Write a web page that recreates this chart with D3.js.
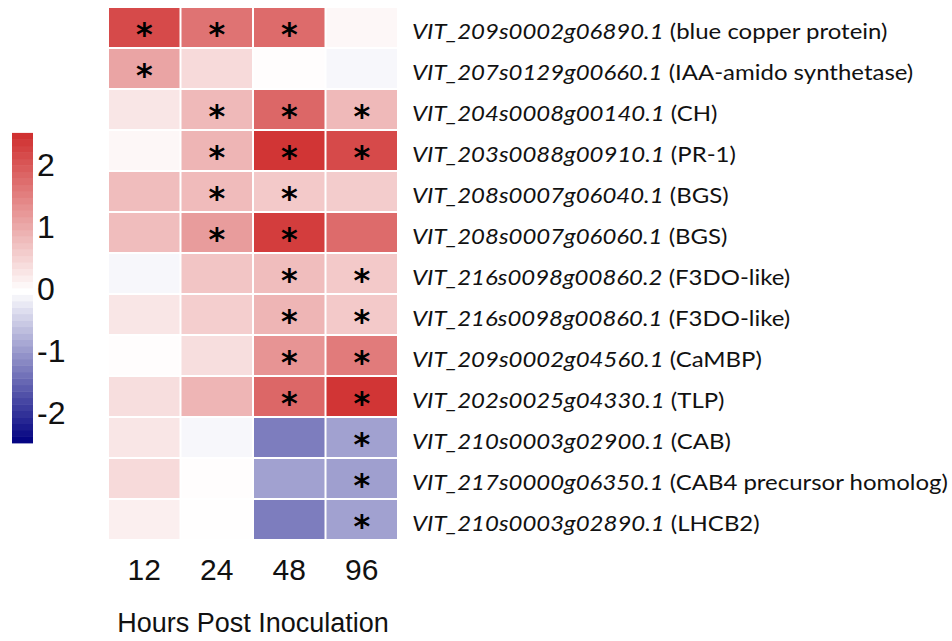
<!DOCTYPE html>
<html>
<head>
<meta charset="utf-8">
<script src="https://cdn.jsdelivr.net/npm/d3@7"></script>
<style>
  html, body { margin: 0; padding: 0; background: #fff; }
  svg { display: block; }
</style>
</head>
<body>
<svg id="chart" width="952" height="641"></svg>
<script>
// ---- data ----
const timepoints = ["12", "24", "48", "96"];
const geneIds = [
  "VIT_209s0002g06890.1", "VIT_207s0129g00660.1", "VIT_204s0008g00140.1",
  "VIT_203s0088g00910.1", "VIT_208s0007g06040.1", "VIT_208s0007g06060.1",
  "VIT_216s0098g00860.2", "VIT_216s0098g00860.1", "VIT_209s0002g04560.1",
  "VIT_202s0025g04330.1", "VIT_210s0003g02900.1", "VIT_217s0000g06350.1",
  "VIT_210s0003g02890.1"
];
const geneNames = [
  "(blue copper protein)", "(IAA-amido synthetase)", "(CH)", "(PR-1)", "(BGS)",
  "(BGS)", "(F3DO-like)", "(F3DO-like)", "(CaMBP)", "(TLP)", "(CAB)",
  "(CAB4 precursor homolog)", "(LHCB2)"
];
const values12 = [2.2, 1.1, 0.3, 0.1, 0.8, 0.8, -0.08, 0.3, 0.02, 0.4, 0.3, 0.45, 0.2];
const values24 = [1.7, 0.45, 0.85, 0.9, 0.82, 1.2, 0.7, 0.6, 0.4, 0.9, -0.08, 0.02, 0.01];
const values48 = [1.8, 0.02, 1.85, 2.45, 0.65, 2.35, 0.8, 0.9, 1.3, 1.85, -1.25, -0.9, -1.25];
const values96 = [0.1, -0.08, 0.85, 2.2, 0.62, 1.8, 0.65, 0.65, 1.6, 2.45, -0.9, -0.92, -0.9];
const sig12 = [1, 1, 0, 0, 0, 0, 0, 0, 0, 0, 0, 0, 0];
const sig24 = [1, 0, 1, 1, 1, 1, 0, 0, 0, 0, 0, 0, 0];
const sig48 = [1, 0, 1, 1, 1, 1, 1, 1, 1, 1, 0, 0, 0];
const sig96 = [0, 0, 1, 1, 0, 0, 1, 1, 1, 1, 1, 1, 1];
const legendTicks = [2, 1, 0, -1, -2];
const legendDomain = [-2.45, 2.55];
const xTitle = "Hours Post Inoculation";

// ---- build table ----
const valueCols = [values12, values24, values48, values96];
const sigCols = [sig12, sig24, sig48, sig96];
const cells = [];
geneIds.forEach((g, r) => {
  timepoints.forEach((t, c) => {
    cells.push({ gene: g, time: t, value: valueCols[c][r], sig: sigCols[c][r] });
  });
});

const svg = d3.select("#chart");

const x = d3.scaleBand().domain(timepoints).range([108, 398]);
const y = d3.scaleBand().domain(geneIds).range([7, 540]);
const color = d3.scaleLinear()
  .domain([legendDomain[0], 0, legendDomain[1]])
  .range(["#000080", "#ffffff", "#cf2d2d"])
  .interpolate(d3.interpolateRgb)
  .clamp(true);

// cells
svg.append("g").selectAll("rect").data(cells).join("rect")
  .attr("x", d => x(d.time) + 1)
  .attr("y", d => y(d.gene) + 1)
  .attr("width", x.bandwidth() - 2)
  .attr("height", y.bandwidth() - 2)
  .attr("fill", d => color(d.value));

// asterisks
svg.append("g").selectAll("text").data(cells.filter(d => d.sig)).join("text")
  .attr("x", d => x(d.time) + x.bandwidth() / 2)
  .attr("y", d => y(d.gene) + y.bandwidth() / 2 + 17)
  .attr("text-anchor", "middle")
  .attr("font-family", "DejaVu Sans")
  .attr("font-weight", "bold")
  .attr("font-size", 32)
  .attr("fill", "#000")
  .text("*");

// row labels
const labels = svg.append("g")
  .attr("transform", "translate(412,0) scale(1.09,1)")
  .selectAll("text").data(geneIds).join("text")
  .attr("x", 0)
  .attr("y", d => y(d) + y.bandwidth() / 2 + 12)
  .attr("font-family", "Lato, 'Open Sans', sans-serif")
  .attr("font-size", 22)
  .attr("fill", "#111");
labels.append("tspan").attr("font-style", "italic").text(d => d);
labels.append("tspan").text((d, i) => "\u00a0" + geneNames[i]);

// x axis labels
const xAxis = d3.axisBottom(x).tickSize(0).tickPadding(0);
const gx = svg.append("g").attr("transform", "translate(0,559)").call(xAxis);
gx.select(".domain").remove();
gx.selectAll("text")
  .attr("font-family", "'Liberation Sans', Arial, sans-serif")
  .attr("font-size", 30)
  .attr("fill", "#111")
  .attr("dy", "0.71em");

svg.append("text")
  .attr("x", (108 + 398) / 2)
  .attr("y", 632)
  .attr("text-anchor", "middle")
  .attr("font-family", "'Liberation Sans', Arial, sans-serif")
  .attr("font-size", 27)
  .attr("fill", "#111")
  .text(xTitle);

// legend
const ly = d3.scaleLinear().domain([0, 1]).range([291, 229]);
const steps = 48;
const stepVals = d3.range(steps).map(i => legendDomain[0] + (legendDomain[1] - legendDomain[0]) * (i + 0.5) / steps);
const stepH = (ly(legendDomain[0]) - ly(legendDomain[1])) / steps;
svg.append("g").selectAll("rect").data(stepVals).join("rect")
  .attr("x", 12)
  .attr("width", 21)
  .attr("y", (d, i) => ly(legendDomain[0]) - (i + 1) * stepH)
  .attr("height", stepH + 0.5)
  .attr("fill", d => color(d));

const legAxis = d3.axisRight(ly).tickValues(legendTicks).tickSize(0).tickPadding(0)
  .tickFormat(d => d < 0 ? "-" + Math.abs(d) : String(d));
const gl = svg.append("g").attr("transform", "translate(37,-2)").call(legAxis);
gl.select(".domain").remove();
gl.selectAll("text")
  .attr("font-family", "'Liberation Sans', Arial, sans-serif")
  .attr("font-size", 32)
  .attr("fill", "#111");
</script>
</body>
</html>
